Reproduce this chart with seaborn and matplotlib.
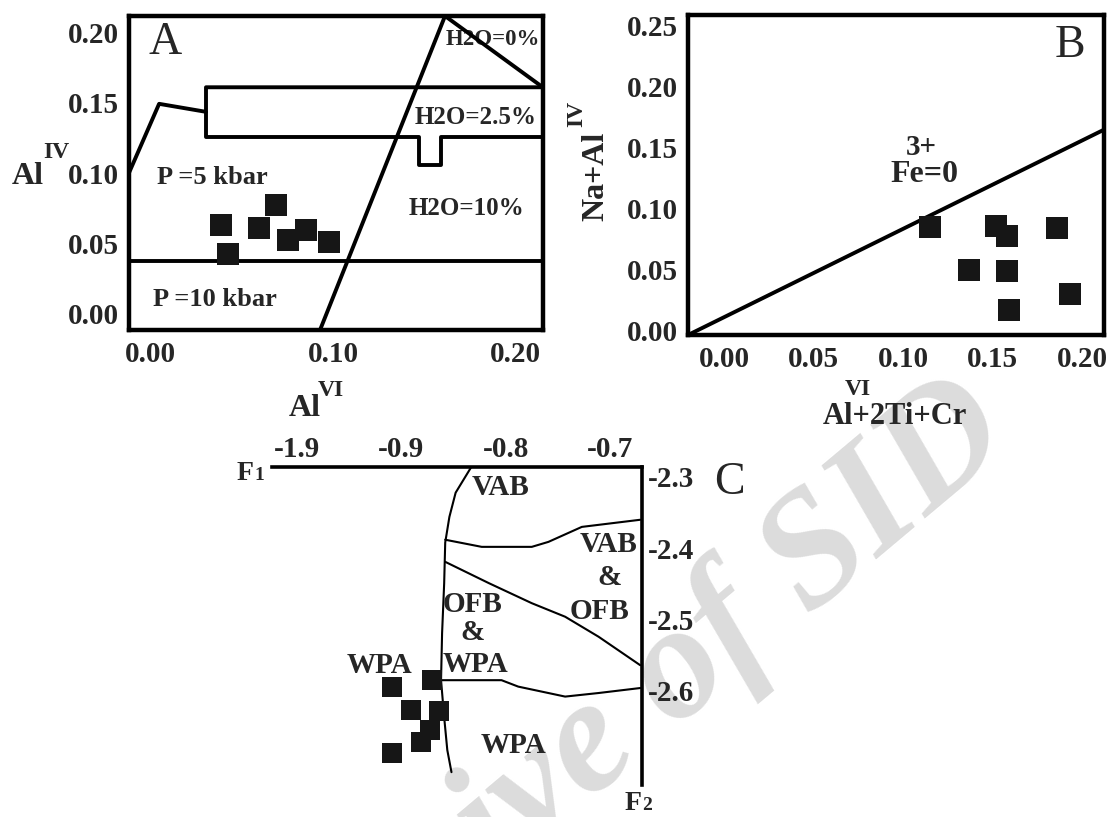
import matplotlib
matplotlib.use("Agg")
import matplotlib.pyplot as plt
import seaborn as sns
from matplotlib.ticker import FormatStrFormatter

sns.set_theme(style="white")
plt.rcParams['font.family'] = ['Liberation Serif', 'DejaVu Serif']
plt.rcParams['font.weight'] = 'bold'
plt.rcParams['axes.edgecolor'] = 'black'

# ---------------- data: panel A ----------------
a_x = [0.0386, 0.0422, 0.0595, 0.0688, 0.0751, 0.0852, 0.0976]
a_y = [0.0631, 0.0424, 0.0610, 0.0774, 0.0524, 0.0596, 0.0506]
a_upper_x = [-0.0118, 0.0047, 0.0304, 0.0304, 0.215]
a_upper_y = [0.1002, 0.1494, 0.1437, 0.1612, 0.1612]
a_lower_x = [0.0304, 0.0304, 0.147, 0.147, 0.159, 0.159, 0.215]
a_lower_y = [0.1437, 0.1259, 0.1259, 0.1059, 0.1059, 0.1259, 0.1259]
a_p_x = [-0.0118, 0.215]
a_p_y = [0.0374, 0.0374]
a_steep_x = [0.0929, 0.1614]
a_steep_y = [-0.0118, 0.212]
a_h0_x = [0.1614, 0.215]
a_h0_y = [0.212, 0.1612]
a_ticks_x = [0.0, 0.1, 0.2]
a_ticks_y = [0.0, 0.05, 0.10, 0.15, 0.20]

# ---------------- data: panel B ----------------
b_x = [0.115, 0.152, 0.158, 0.186, 0.137, 0.158, 0.159, 0.193]
b_y = [0.0856, 0.086, 0.078, 0.084, 0.050, 0.049, 0.017, 0.030]
b_line_x = [-0.0201, 0.2121]
b_line_y = [-0.0033, 0.165]
b_ticks_x = [0.0, 0.05, 0.10, 0.15, 0.20]
b_ticks_y = [0.0, 0.05, 0.10, 0.15, 0.20, 0.25]

# ---------------- data: panel C ----------------
c_x = [-0.909, -0.871, -0.891, -0.864, -0.873, -0.881, -0.909]
c_y = [-2.594, -2.585, -2.627, -2.628, -2.655, -2.672, -2.687]
c_b1_x = [-0.833, -0.848, -0.854, -0.858, -0.859, -0.861, -0.862, -0.859, -0.856, -0.852]
c_b1_y = [-2.286, -2.322, -2.356, -2.392, -2.449, -2.519, -2.585, -2.637, -2.683, -2.714]
c_b2_x = [-0.858, -0.823, -0.775, -0.759, -0.727, -0.671]
c_b2_y = [-2.388, -2.398, -2.398, -2.391, -2.370, -2.360]
c_b3_x = [-0.858, -0.816, -0.775, -0.743, -0.711, -0.671]
c_b3_y = [-2.419, -2.449, -2.477, -2.496, -2.524, -2.564]
c_b4_x = [-0.861, -0.804, -0.788, -0.743, -0.711, -0.671]
c_b4_y = [-2.585, -2.585, -2.594, -2.608, -2.603, -2.596]
c_ticks_x = [-1.0, -0.9, -0.8, -0.7]
c_ticklabels_x = ["-1.9", "-0.9", "-0.8", "-0.7"]
c_ticks_y = [-2.3, -2.4, -2.5, -2.6]
c_ticklabels_y = ["-2.3", "-2.4", "-2.5", "-2.6"]

W, H = 1110, 817
fig = plt.figure(figsize=(W / 100, H / 100), dpi=100)


def rect(l, t, r, b):
    return [l / W, 1 - b / H, (r - l) / W, (b - t) / H]


def fpos(px, py):
    return px / W, 1 - py / H


TICK_FS = 21
LW_FRAME = 3.2
LW_IN = 2.8

# watermark
fx, fy = fpos(605, 742)
fig.text(fx, fy, "Archive of SID", rotation=40, fontsize=117, style='italic',
         weight='bold', color='#dcdcdc', ha='center', va='center', zorder=-1)


def line(ax, xs, ys, lw):
    sns.lineplot(x=xs, y=ys, sort=False, estimator=None, color='black',
                 linewidth=lw, ax=ax, legend=False, zorder=3)


# ---------------- Panel A ----------------
axA = fig.add_axes(rect(129, 16, 543, 330))
axA.set_facecolor('none')
for xs, ys in [(a_upper_x, a_upper_y), (a_lower_x, a_lower_y), (a_p_x, a_p_y),
               (a_steep_x, a_steep_y), (a_h0_x, a_h0_y)]:
    line(axA, xs, ys, LW_IN)
sns.scatterplot(x=a_x, y=a_y, marker='s', s=250, color='#161616', linewidth=0,
                ax=axA, zorder=5)
axA.set_xlim(-0.0118, 0.2151)
axA.set_ylim(-0.0118, 0.212)
axA.set_xticks(a_ticks_x)
axA.set_yticks(a_ticks_y)
axA.xaxis.set_major_formatter(FormatStrFormatter('%.2f'))
axA.yaxis.set_major_formatter(FormatStrFormatter('%.2f'))
axA.tick_params(axis='both', length=0, labelsize=TICK_FS)
axA.tick_params(axis='x', pad=8)
axA.tick_params(axis='y', pad=7)
for s in axA.spines.values():
    s.set_linewidth(LW_FRAME)
    s.set_color('black')
axA.set_xlabel('')
axA.set_ylabel('')
axA.text(0.0079, 0.193, "A", fontsize=33, weight='normal', ha='center', va='center')
axA.text(0.1877, 0.195, "H2O=0%", fontsize=16.5, ha='center', va='center', zorder=2)
axA.text(0.1784, 0.1394, "H2O=2.5%", fontsize=18, ha='center', va='center')
axA.text(0.1729, 0.0745, "H2O=10%", fontsize=18, ha='center', va='center')
axA.text(0.0337, 0.0967, "P =5 kbar", fontsize=19, ha='center', va='center')
axA.text(0.0353, 0.0096, "P =10 kbar", fontsize=19, ha='center', va='center')

fig.text(*fpos(28, 176), "Al", fontsize=23, ha='center', va='center')
fig.text(*fpos(56, 153), "IV", fontsize=17, ha='center', va='center')
fig.text(*fpos(305, 409), "Al", fontsize=23, ha='center', va='center')
fig.text(*fpos(331, 390), "VI", fontsize=17, ha='center', va='center')

# ---------------- Panel B ----------------
axB = fig.add_axes(rect(688, 15, 1104, 335))
axB.set_facecolor('none')
line(axB, b_line_x, b_line_y, LW_IN)
sns.scatterplot(x=b_x, y=b_y, marker='s', s=240, color='#161616', linewidth=0,
                ax=axB, zorder=5)
axB.set_xlim(-0.0201, 0.2121)
axB.set_ylim(-0.0033, 0.259)
axB.set_xticks(b_ticks_x)
axB.set_yticks(b_ticks_y)
axB.xaxis.set_major_formatter(FormatStrFormatter('%.2f'))
axB.yaxis.set_major_formatter(FormatStrFormatter('%.2f'))
axB.tick_params(axis='both', length=0, labelsize=TICK_FS)
axB.tick_params(axis='x', pad=8)
axB.tick_params(axis='y', pad=7)
for s in axB.spines.values():
    s.set_linewidth(LW_FRAME)
    s.set_color('black')
axB.set_xlabel('')
axB.set_ylabel('')
axB.text(0.193, 0.234, "B", fontsize=33, weight='normal', ha='center', va='center')
axB.text(0.110, 0.150, "3+", fontsize=21, ha='center', va='center')
axB.text(0.112, 0.128, "Fe=0", fontsize=23, ha='center', va='center')

fig.text(*fpos(895, 417), "Al+2Ti+Cr", fontsize=22, ha='center', va='center')
fig.text(*fpos(858, 389), "VI", fontsize=17, ha='center', va='center')
fig.text(*fpos(596, 176), "Na+Al", fontsize=23, rotation=90, ha='center', va='center')
fig.text(*fpos(577, 114), "IV", fontsize=17, rotation=90, ha='center', va='center')

# ---------------- Panel C ----------------
axC = fig.add_axes(rect(272, 467, 642, 785))
axC.set_facecolor('none')
for xs, ys in [(c_b1_x, c_b1_y), (c_b2_x, c_b2_y), (c_b3_x, c_b3_y), (c_b4_x, c_b4_y)]:
    line(axC, xs, ys, 1.5)
sns.scatterplot(x=c_x, y=c_y, marker='s', s=210, color='#161616', linewidth=0,
                ax=axC, zorder=5, clip_on=False)
axC.set_xlim(-1.0241, -0.6693)
axC.set_ylim(-2.732, -2.286)
axC.xaxis.tick_top()
axC.yaxis.tick_right()
axC.set_xticks(c_ticks_x)
axC.set_xticklabels(c_ticklabels_x)
axC.set_yticks(c_ticks_y)
axC.set_yticklabels(c_ticklabels_y)
axC.tick_params(axis='both', length=0, labelsize=TICK_FS)
axC.tick_params(axis='x', pad=3)
axC.tick_params(axis='y', pad=4)
axC.spines['left'].set_visible(False)
axC.spines['bottom'].set_visible(False)
axC.spines['top'].set_linewidth(2.6)
axC.spines['right'].set_linewidth(2.6)
axC.set_xlabel('')
axC.set_ylabel('')
for (tx, ty, s) in [(-0.8047, -2.3154, "VAB"), (-0.7016, -2.394, "VAB"),
                    (-0.7007, -2.4416, "&"), (-0.7102, -2.4893, "OFB"),
                    (-0.8314, -2.4795, "OFB"), (-0.8323, -2.5187, "&"),
                    (-0.8285, -2.5636, "WPA"), (-0.9211, -2.565, "WPA"),
                    (-0.7923, -2.6772, "WPA")]:
    axC.text(tx, ty, s, fontsize=21, ha='center', va='center', zorder=4)
fig.text(*fpos(729, 483), "C", fontsize=33, weight='normal', ha='center', va='center')
fig.text(*fpos(245, 473), "F", fontsize=20, ha='center', va='center')
fig.text(*fpos(259, 476), "1", fontsize=14, ha='center', va='center')
fig.text(*fpos(633, 803), "F", fontsize=20, ha='center', va='center')
fig.text(*fpos(647, 806), "2", fontsize=14, ha='center', va='center')

fig.savefig("out.png", dpi=100)
